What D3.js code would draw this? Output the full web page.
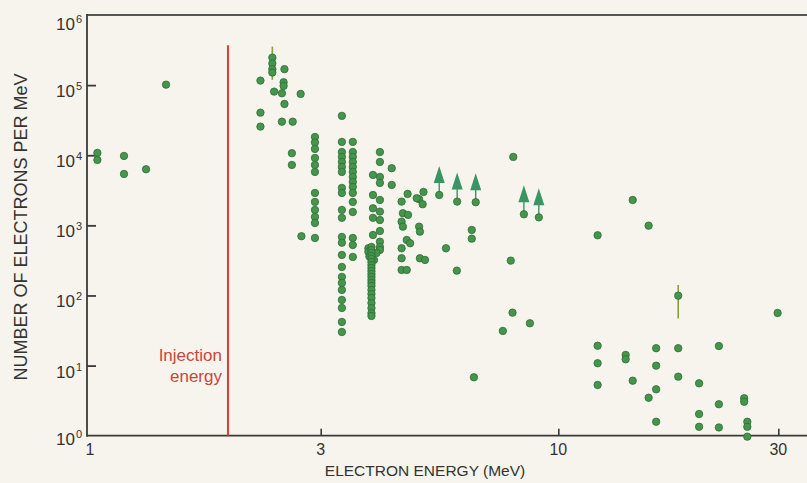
<!DOCTYPE html>
<html><head><meta charset="utf-8">
<script src="https://cdn.jsdelivr.net/npm/d3@7"></script>
<style>
html,body{margin:0;padding:0;background:#f6f4ec;}
svg{display:block;font-family:"Liberation Sans",Arial,Helvetica,sans-serif;}
</style></head><body>
<svg id="chart" width="807" height="483"></svg>
<script>
// Axis ticks
const energyTicks = [1, 3, 10, 30];            // MeV
const countExponents = [0, 1, 2, 3, 4, 5, 6];   // decades of electrons per MeV

// Injection energy marker
const injectionEnergy = 1.94;
const injectionTop = 3.7e5;

// Measured spectrum points: [energy MeV, electrons per MeV]
const electrons = [
  [1.05,10800],[1.05,8570],[1.19,9770],[1.19,5410],[1.32,6310],[1.45,101600],
  [2.39,247000],[2.39,204000],[2.39,169000],[2.53,169000],[2.26,116000],[2.52,110000],[2.52,97400],
  [2.41,80800],[2.50,76600],[2.73,74900],[2.53,53900],[2.26,40500],[2.26,25600],[2.50,30100],
  [2.63,30100],[2.62,10700],[2.62,7270],[2.74,700],
  [2.92,18200],[2.92,15200],[2.92,12300],[2.92,9150],[2.92,7270],[2.92,5780],[2.92,2900],
  [2.92,2160],[2.92,1660],[2.92,1320],[2.92,1080],[2.92,661],
  [3.34,36400],[3.34,15500],[3.34,11100],[3.34,9460],[3.34,8020],[3.34,6810],[3.34,5780],
  [3.34,3420],[3.34,2900],[3.34,1660],[3.34,1280],[3.34,683],[3.34,566],[3.34,378],[3.34,255],
  [3.34,184],[3.34,151],[3.34,120],[3.34,86.3],[3.34,66.3],[3.34,41.9],[3.34,30.1],
  [3.53,15500],[3.53,11100],[3.53,9460],[3.53,8020],[3.53,6810],[3.53,5780],[3.53,4900],
  [3.53,4160],[3.53,3530],[3.53,2900],[3.53,2160],[3.53,1550],[3.53,661],[3.53,525],[3.53,354],
  [4.05,11100],[4.05,8020],[4.05,4900],[4.05,4030],[4.05,2300],[4.05,1570],[4.05,1190],
  [4.05,830],[4.05,585],[4.30,6530],[4.30,3770],
  [3.91,5240],[3.91,2710],[3.91,1750],[3.91,1280],[3.91,730],
  [3.82,471],[3.82,420],[4.05,492],[4.05,446],[3.98,404],[3.84,360],[3.93,320],
  [3.88,492],[3.88,446],[3.88,404],[3.88,366],[3.88,332],[3.88,301],[3.88,272],[3.88,247],
  [3.88,223],[3.88,202],[3.88,184],[3.88,166],[3.88,151],[3.88,137],[3.88,120],[3.88,105],
  [3.88,92],[3.88,78],[3.88,66],[3.88,56],[3.88,51],
  [4.66,2810],[5.05,2990],[4.52,2180],[4.94,2360],[4.88,2440],[5.03,2000],[4.55,1490],
  [4.67,1410],[4.52,1130],[4.55,958],[4.94,958],[4.96,813],[4.64,619],[4.72,556],[4.52,471],
  [4.52,339],[4.96,339],[5.09,321],[4.52,231],[4.64,231],
  [5.66,471],[5.98,226],[6.45,860],[6.45,646],[7.86,314],[7.93,56.9],[8.66,40.1],[7.55,31.2],
  [6.52,6.81],[7.96,9460],
  [12.17,722],[14.5,2300],[15.7,990],[29.9,56.3],
  [12.17,19.2],[12.17,10.8],[12.17,5.29],[14.0,14.2],[14.0,12.3],[14.5,6.09],[16.3,17.7],
  [16.3,9.97],[16.3,4.59],[15.7,3.48],[16.3,1.58],[18.2,17.7],[18.2,6.95],[20.2,5.59],
  [20.2,2.04],[20.2,1.34],[22.3,19.0],[22.3,2.81],[22.3,1.31],[25.3,3.42],[25.3,3.05],
  [25.7,1.58],[25.7,1.34],[25.7,0.97]
];

// Lower limits: [energy MeV, electrons per MeV]
const lowerLimits = [[5.47,2710],[5.99,2180],[6.58,2140],[8.40,1440],[9.06,1300]];

// Points with error bars: [energy, value, low, high]
const errorBars = [[2.39,151000,119000,354000],[18.2,99.4,47,141]];

const svg = d3.select("#chart");
const W = 807, H = 483;
svg.append("rect").attr("width", W).attr("height", H).attr("fill", "#f6f4ec");

// The hand-ruled energy axis is slightly uneven, so the log scale is piecewise
const x = d3.scaleLog().domain(energyTicks).range([87, 320.7, 558.3, 778.3]);
const y = d3.scaleLog().domain([1, 1e6]).range([435.7, 15]);
const yTicks = countExponents.map(e => Math.pow(10, e));

const axisColor = "#3a3a3a";
const plotLeft = x(1), plotBottom = y(1), plotTop = y(1e6);

// Frame: left axis, bottom axis, top rule
svg.append("line").attr("x1", plotLeft).attr("x2", W).attr("y1", plotTop).attr("y2", plotTop)
  .attr("stroke", "#555").attr("stroke-width", 2);
svg.append("line").attr("x1", plotLeft).attr("x2", W).attr("y1", plotBottom).attr("y2", plotBottom)
  .attr("stroke", axisColor).attr("stroke-width", 1.8);
svg.append("line").attr("x1", plotLeft).attr("x2", plotLeft).attr("y1", plotTop - 1).attr("y2", plotBottom + 1)
  .attr("stroke", axisColor).attr("stroke-width", 1.8);

// Y axis ticks (pointing inward)
const yAxis = d3.axisRight(y).tickValues(yTicks.slice(1, 6)).tickSize(9).tickFormat("");
const gy = svg.append("g").attr("transform", `translate(${plotLeft},0)`).call(yAxis);
gy.select(".domain").remove();
gy.selectAll(".tick line").attr("stroke", axisColor).attr("stroke-width", 1.8);

// Y tick labels as 10 with superscript exponent
const ylab = svg.append("g").attr("fill", "#333");
countExponents.forEach(e => {
  const dy = e === 0 ? 9 : e === 6 ? 15 : 12;
  ylab.append("text").attr("x", 75).attr("y", y(Math.pow(10, e)) + dy)
    .attr("text-anchor", "end").attr("font-size", 17).text("10");
  ylab.append("text").attr("x", 76).attr("y", y(Math.pow(10, e)) + dy - 7)
    .attr("font-size", 11).text(e);
});

// X axis ticks (pointing inward)
const xAxis = d3.axisTop(x).tickValues(energyTicks.slice(1)).tickSize(7).tickFormat("");
const gx = svg.append("g").attr("transform", `translate(0,${plotBottom})`).call(xAxis);
gx.select(".domain").remove();
gx.selectAll(".tick line").attr("stroke", axisColor).attr("stroke-width", 1.6);

svg.append("g").selectAll("text").data(energyTicks).join("text")
  .attr("x", d => x(d) + (d === 1 ? 3 : 0)).attr("y", plotBottom + 19)
  .attr("text-anchor", "middle").attr("font-size", 16).attr("fill", "#333")
  .text(d => d);

// Axis titles
svg.append("text").attr("x", 425).attr("y", 476).attr("text-anchor", "middle")
  .attr("font-size", 15.5).attr("fill", "#333").text("ELECTRON ENERGY (MeV)");
svg.append("text").attr("transform", "translate(27,227) rotate(-90)")
  .attr("text-anchor", "middle").attr("font-size", 18).attr("fill", "#333")
  .text("NUMBER OF ELECTRONS PER MeV");

// Injection energy
svg.append("line").attr("x1", x(injectionEnergy)).attr("x2", x(injectionEnergy))
  .attr("y1", y(injectionTop)).attr("y2", plotBottom)
  .attr("stroke", "#e23a33").attr("stroke-width", 2);
const inj = svg.append("text").attr("text-anchor", "end").attr("fill", "#c9463c")
  .attr("font-size", 17);
inj.append("tspan").attr("x", x(injectionEnergy) - 6).attr("y", y(10) - 5).text("Injection");
inj.append("tspan").attr("x", x(injectionEnergy) - 6).attr("y", y(10) + 16).text("energy");

const dotFill = "#45954a", dotStroke = "#2f6d3b", r = 3.7;

// Error bars
svg.append("g").selectAll("line").data(errorBars).join("line")
  .attr("x1", d => x(d[0])).attr("x2", d => x(d[0]))
  .attr("y1", d => y(d[3])).attr("y2", d => y(d[2]))
  .attr("stroke", "#86a03c").attr("stroke-width", 1.6);

// Lower-limit arrows
const arrowColor = "#3b9563";
const ag = svg.append("g");
lowerLimits.forEach(d => {
  const cx = x(d[0]), cy = y(d[1]);
  ag.append("line").attr("x1", cx).attr("x2", cx).attr("y1", cy).attr("y2", cy - 13)
    .attr("stroke", arrowColor).attr("stroke-width", 1.4);
  ag.append("path")
    .attr("d", `M${cx},${cy - 29}L${cx + 5.5},${cy - 12}L${cx - 5.5},${cy - 12}Z`)
    .attr("fill", arrowColor);
});

// Data points
svg.append("g").selectAll("circle")
  .data(electrons.concat(lowerLimits, errorBars.map(d => [d[0], d[1]])))
  .join("circle")
  .attr("cx", d => x(d[0])).attr("cy", d => y(d[1])).attr("r", r)
  .attr("fill", dotFill).attr("stroke", dotStroke).attr("stroke-width", 0.8);
</script>
</body></html>
